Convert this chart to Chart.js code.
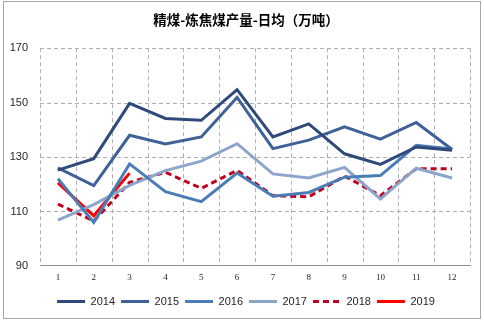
<!DOCTYPE html>
<html>
<head>
<meta charset="utf-8">
<script src="https://cdn.jsdelivr.net/npm/chart.js@4"></script>
<style>
  body { margin: 0; background: #fff; }
  #wrap { position: relative; width: 484px; height: 323px; }
  #frame { position: absolute; left: 3px; top: 1px; width: 476px; height: 316px; border: 1px solid #a6a6a6; pointer-events: none; }
</style>
</head>
<body>
<div id="wrap">
  <canvas id="chart" width="484" height="323"></canvas>
  <div id="frame"></div>
</div>
<script>
// Data
const months = ['1', '2', '3', '4', '5', '6', '7', '8', '9', '10', '11', '12'];
const y2014 = [125.2, 129.4, 149.7, 144.2, 143.5, 154.8, 137.4, 142.2, 131.2, 127.3, 133.7, 132.5];
const y2015 = [126.0, 119.5, 138.0, 134.8, 137.4, 151.9, 133.1, 136.2, 141.1, 136.6, 142.7, 132.8];
const y2016 = [122.0, 106.0, 127.5, 117.3, 113.6, 124.1, 115.6, 117.0, 122.6, 123.2, 134.3, 133.0];
const y2017 = [106.8, 112.5, 119.6, 125.0, 128.5, 134.9, 123.8, 122.3, 126.2, 114.6, 125.9, 122.3];
const y2018 = [112.7, 106.5, 120.7, 124.4, 118.5, 125.1, 115.8, 115.4, 123.0, 115.8, 125.7, 125.7];
const y2019 = [120.5, 108.4, 124.1];
const yTicks = [90, 110, 130, 150, 170];

const textColor = '#262626';
const gridColor = '#b0b0b0';
const gridDash = [4, 3];

function line(label, data, color, dash) {
    return {
        label: label,
        data: data,
        borderColor: color,
        backgroundColor: color,
        borderWidth: 3,
        borderDash: dash || [],
        pointRadius: 0,
        pointStyle: 'line',
        tension: 0,
        fill: false
    };
}

// Dashed grid, drawn from the scales (the built-in grid dash did not show)
const dashedGrid = {
    id: 'dashedGrid',
    beforeDatasetsDraw(chart) {
        const ctx = chart.ctx;
        const x = chart.scales.x;
        const y = chart.scales.y;
        const area = chart.chartArea;
        ctx.save();
        ctx.strokeStyle = gridColor;
        ctx.lineWidth = 1;
        ctx.setLineDash(gridDash);

        // vertical lines on the month boundaries
        const xs = [x.left];
        for (let i = 1; i < months.length; i++) {
            xs.push((x.getPixelForTick(i - 1) + x.getPixelForTick(i)) / 2);
        }
        xs.push(x.right);
        xs.forEach(px => {
            const p = Math.round(px) + 0.5;
            ctx.beginPath();
            ctx.moveTo(p, area.top);
            ctx.lineTo(p, area.bottom);
            ctx.stroke();
        });

        // horizontal lines on the value ticks (90 is the axis line)
        yTicks.filter(v => v !== 90).forEach(v => {
            const p = Math.round(y.getPixelForValue(v)) + 0.5;
            ctx.beginPath();
            ctx.moveTo(area.left, p);
            ctx.lineTo(area.right, p);
            ctx.stroke();
        });
        ctx.restore();
    }
};

new Chart(document.getElementById('chart'), {
    type: 'line',
    data: {
        labels: months,
        datasets: [
            line('2014', y2014, '#2f4a7a'),
            line('2015', y2015, '#3e6298'),
            line('2016', y2016, '#4a7db5'),
            line('2017', y2017, '#8da5cc'),
            line('2018', y2018, '#c0001f', [6, 4]),
            line('2019', y2019, '#ff0000')
        ]
    },
    plugins: [dashedGrid],
    options: {
        responsive: false,
        animation: false,
        layout: { padding: { left: 8, right: 0, top: 0, bottom: 6 } },
        plugins: {
            title: {
                display: true,
                text: '精煤-炼焦煤产量-日均（万吨）',
                color: '#000',
                font: { family: '"Noto Sans CJK SC"', size: 13.5, weight: 'bold' },
                padding: { top: 12, bottom: 20 }
            },
            legend: {
                position: 'bottom',
                labels: {
                    color: textColor,
                    font: { family: '"Liberation Sans"', size: 11 },
                    usePointStyle: true,
                    pointStyle: 'line',
                    pointStyleWidth: 28,
                    boxHeight: 3,
                    padding: 6,
                    generateLabels: function(chart) {
                        const items = Chart.defaults.plugins.legend.labels.generateLabels(chart);
                        items.forEach(item => {
                            const ds = chart.data.datasets[item.datasetIndex];
                            item.lineDash = ds.borderDash;
                            item.strokeStyle = ds.borderColor;
                            item.lineWidth = 3;
                        });
                        return items;
                    }
                }
            },
            tooltip: { enabled: false }
        },
        scales: {
            x: {
                offset: true,
                grid: { display: false, drawTicks: false },
                border: { display: true, color: '#8c8c8c', width: 1 },
                ticks: {
                    color: textColor,
                    font: { family: '"Liberation Serif"', size: 9, lineHeight: 0.9 },
                    padding: 8
                }
            },
            y: {
                min: 90,
                max: 170,
                afterBuildTicks: function(scale) {
                    scale.ticks = yTicks.map(v => ({ value: v }));
                },
                afterFit: function(scale) {
                    scale.width = 32;
                },
                grid: { display: false, drawTicks: false },
                border: { display: false },
                ticks: {
                    color: textColor,
                    font: { family: '"Liberation Sans"', size: 11 },
                    padding: 12
                }
            },
            // empty right axis, only keeps a margin on the right of the plot
            yRight: {
                position: 'right',
                min: 0,
                max: 1,
                afterFit: function(scale) {
                    scale.width = 14;
                },
                grid: { display: false, drawTicks: false },
                border: { display: false },
                ticks: { display: false }
            }
        }
    }
});
</script>
</body>
</html>
